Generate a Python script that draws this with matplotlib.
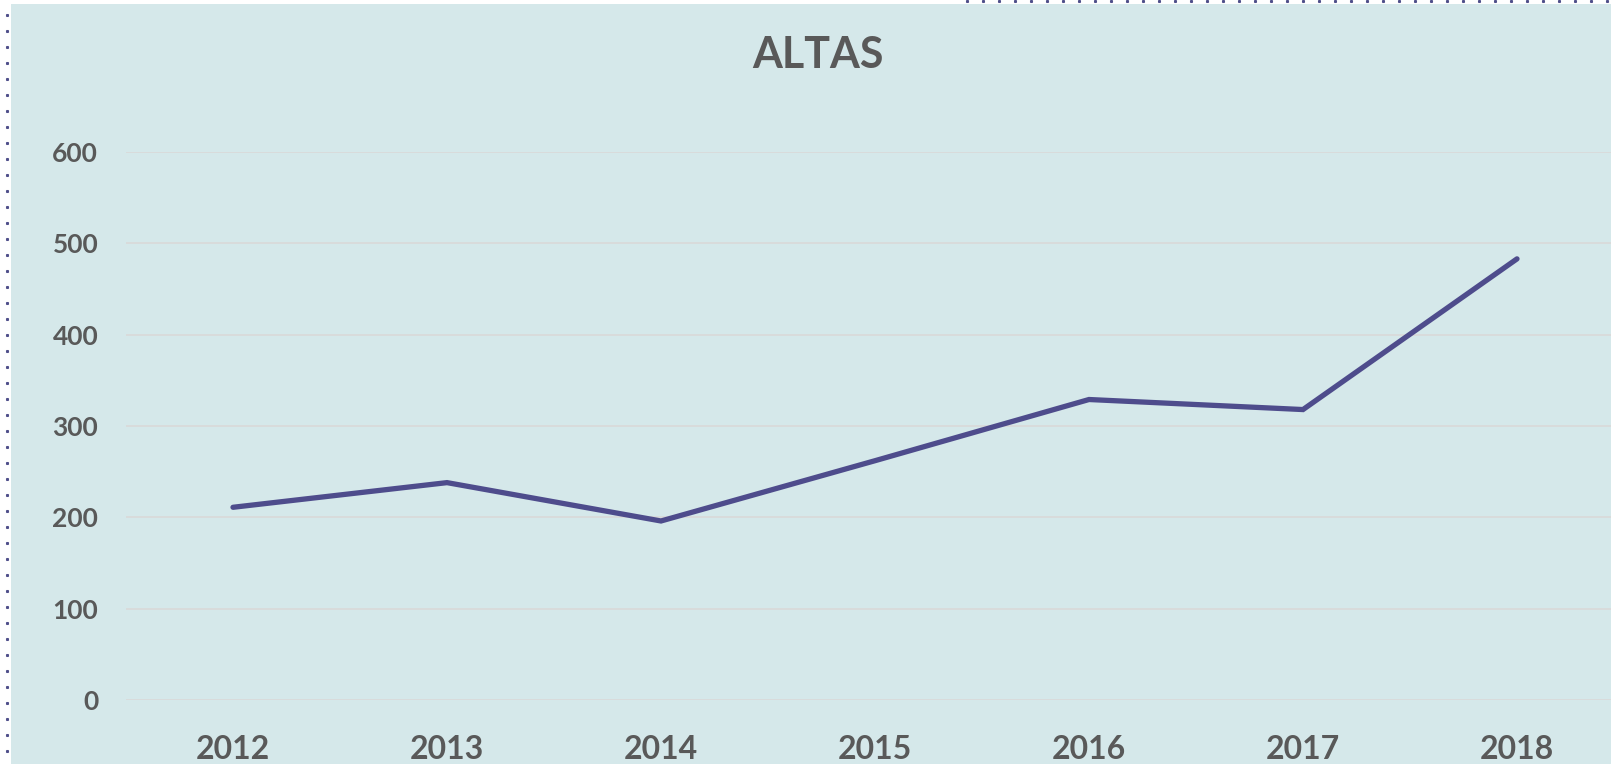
import matplotlib
matplotlib.use("Agg")
import matplotlib.pyplot as plt
from matplotlib.patches import Rectangle
from matplotlib.lines import Line2D

years = ["2012", "2013", "2014", "2015", "2016", "2017", "2018"]
altas = [211, 238, 196, 262, 329, 318, 483]
yticks = [0, 100, 200, 300, 400, 500, 600]
title = "ALTAS"

W, H = 1611, 764
DPI = 100
plt.rcParams['font.family'] = ['Lato', 'DejaVu Sans']

fig = plt.figure(figsize=(W / DPI, H / DPI), dpi=DPI)
fig.patch.set_facecolor("white")

bg = "#D5E8EA"
fig.add_artist(Rectangle((11 / W, 0), 1 - 11 / W, 1 - 4 / H, transform=fig.transFigure,
                         facecolor=bg, edgecolor="none", zorder=-10))

# dotted selection border
dot_c = "#4F4F8A"
ys = [(H - y) / H for y in range(15, H, 16)]
fig.add_artist(Line2D([6.5 / W] * len(ys), ys, transform=fig.transFigure, linestyle="none",
                      marker="s", markersize=1.2, color=dot_c))
xs = [x / W for x in range(967, W, 16)]
fig.add_artist(Line2D(xs, [1 - 0.8 / H] * len(xs), transform=fig.transFigure, linestyle="none",
                      marker="s", markersize=1.2, color=dot_c))

left, right = 126, 1624
bottom, top = 700, 152
ax = fig.add_axes([left / W, (H - bottom) / H, (right - left) / W, (bottom - top) / H])
ax.set_facecolor("none")
x = list(range(len(years)))
ax.plot(x, altas, color="#4E4C8C", lw=3.8, solid_capstyle="round", solid_joinstyle="miter",
        clip_on=False, zorder=3)
ax.set_xlim(-0.5, len(years) - 0.5)
ax.set_ylim(0, 600)
ax.set_yticks(yticks)
ax.set_yticklabels([str(v) for v in yticks])
ax.set_xticks(x)
ax.set_xticklabels(years)
for s in ax.spines.values():
    s.set_visible(False)
ax.grid(axis="y", color="#D9D9D9", lw=1.2)
ax.set_axisbelow(True)
ax.tick_params(axis="both", length=0)
ax.tick_params(axis="y", labelsize=19, labelcolor="#595959", pad=20)
ax.tick_params(axis="x", labelsize=23, labelcolor="#595959", pad=25)
for lbl in ax.get_yticklabels() + ax.get_xticklabels():
    lbl.set_fontweight("bold")

fig.text(818 / W, 1 - 55 / H, title, ha="center", va="center", fontsize=31,
         fontweight="bold", color="#595959")

fig.savefig("out.png", dpi=DPI, facecolor=fig.get_facecolor())
